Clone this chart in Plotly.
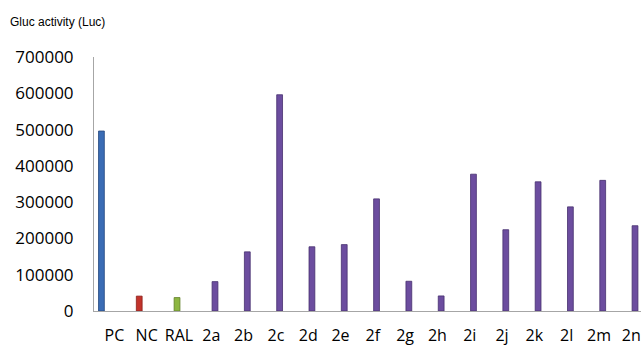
import plotly.graph_objects as go

categories = ["PC", "NC", "RAL", "2a", "2b", "2c", "2d", "2e", "2f", "2g",
              "2h", "2i", "2j", "2k", "2l", "2m", "2n"]
tick_labels = ["PC", "NC", "RAL", "2a", "2b", "2c", "2d", "2e", "2f", "2g",
               "2h", "2i", "2j", "2k", "2l", "2m", "2n"]

pc_cat = ["PC"]
pc_val = [496000]
nc_cat = ["NC"]
nc_val = [41000]
ral_cat = ["RAL"]
ral_val = [37000]
cmp_cat = ["2a", "2b", "2c", "2d", "2e", "2f", "2g", "2h", "2i", "2j",
           "2k", "2l", "2m", "2n"]
cmp_val = [81000, 163000, 596000, 177000, 183000, 309000, 82000, 41500,
           377000, 224000, 356000, 287000, 360000, 235000]

y_ticks = [0, 100000, 200000, 300000, 400000, 500000, 600000, 700000]

W = 0.18
series = [
    (pc_cat, pc_val, "#3a6cb5", "#24487e", -0.40),
    (nc_cat, nc_val, "#c2332b", "#8a1f1a", -0.23),
    (ral_cat, ral_val, "#8db641", "#5f7f26", -0.06),
    (cmp_cat, cmp_val, "#6c4d9f", "#46306e", 0.115),
]

fig = go.Figure()
for cats, vals, col, lcol, off in series:
    fig.add_trace(go.Bar(
        x=cats, y=vals, width=W, offset=off - W / 2,
        marker=dict(color=col, line=dict(color=lcol, width=0.8)),
        showlegend=False,
    ))

font = "Open Sans"
fig.update_layout(
    width=641, height=345,
    margin=dict(l=94, r=0, t=57, b=34, autoexpand=False),
    paper_bgcolor="white", plot_bgcolor="white",
    barmode="overlay",
    title=dict(text="Gluc activity (Luc)", x=10 / 641, xanchor="left",
               xref="container", y=1 - 22 / 345, yanchor="middle",
               yref="container", pad=dict(l=0, r=0, t=0, b=0),
               font=dict(family="Liberation Sans Narrow, Arial Narrow, sans-serif",
                         size=12, color="#000000")),
    xaxis=dict(type="category", categoryorder="array", categoryarray=categories,
               tickvals=categories, ticktext=tick_labels,
               range=[-0.63, 16.3], showgrid=False, showline=True,
               linecolor="#a6a6a6", linewidth=1, ticks="outside",
               ticklen=10, tickcolor="rgba(0,0,0,0)",
               tickfont=dict(family=font, size=16, color="#000000"),
               zeroline=False, fixedrange=True, automargin=False),
    yaxis=dict(range=[0, 700000], tickvals=y_ticks,
               ticktext=[str(v) for v in y_ticks],
               showgrid=False, showline=True, linecolor="#a6a6a6",
               linewidth=1, ticks="outside", ticklen=16,
               tickcolor="rgba(0,0,0,0)",
               tickfont=dict(family=font, size=17, color="#000000"),
               zeroline=False, fixedrange=True, automargin=False),
)

fig.write_html("out.html", config={"displayModeBar": False},
               post_script="document.body.style.margin='0';document.body.style.overflow='hidden';")
